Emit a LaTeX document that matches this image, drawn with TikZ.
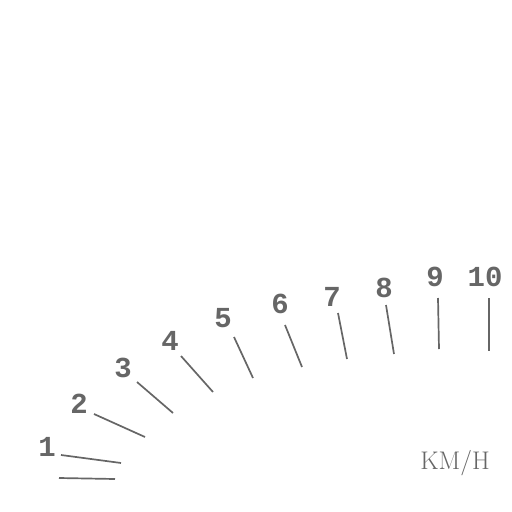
\documentclass[tikz,border=0pt]{standalone}
\usepackage{fontspec}
\newfontfamily\numfont{Liberation Mono}
\definecolor{dial}{HTML}{666666}
\begin{document}
\begin{tikzpicture}[x=1pt,y=-1pt,
  tick/.style={draw=dial,line width=1.7pt},
  num/.style={text=dial,inner sep=0pt,font=\numfont\bfseries\fontsize{29}{29}\selectfont},
  unit/.style={text=dial,inner sep=0pt,font=\fontsize{25.5}{25.5}\selectfont}]
\useasboundingbox (0,0) rectangle (512,512);
% ticks
\coordinate (a0) at (59,478); \coordinate (b0) at (115,479);
\coordinate (a1) at (61,455); \coordinate (b1) at (121,463);
\coordinate (a2) at (94,414); \coordinate (b2) at (145,437);
\coordinate (a3) at (137,382); \coordinate (b3) at (173,413);
\coordinate (a4) at (181,356); \coordinate (b4) at (213,392);
\coordinate (a5) at (234,337); \coordinate (b5) at (253,378);
\coordinate (a6) at (285,325); \coordinate (b6) at (302,367);
\coordinate (a7) at (338,313); \coordinate (b7) at (347,359);
\coordinate (a8) at (386,305); \coordinate (b8) at (394,354);
\coordinate (a9) at (438,298); \coordinate (b9) at (439,349);
\coordinate (a10) at (489,298); \coordinate (b10) at (489,351);
\foreach \i in {0,...,10} \draw[tick] (a\i) -- (b\i);
% labels
\node[num] (n1) at (47,447) {1};
\node[num] (n2) at (79,404) {2};
\node[num] (n3) at (123,368) {3};
\node[num] (n4) at (170,341) {4};
\node[num] (n5) at (223,318) {5};
\node[num] (n6) at (280,304) {6};
\node[num] (n7) at (332,297) {7};
\node[num] (n8) at (384,288) {8};
\node[num] (n9) at (435,277) {9};
\node[num] (n10) at (485,277) {10};
\node[unit] (kmh) at (455,463) {KM/H};
\end{tikzpicture}
\end{document}
